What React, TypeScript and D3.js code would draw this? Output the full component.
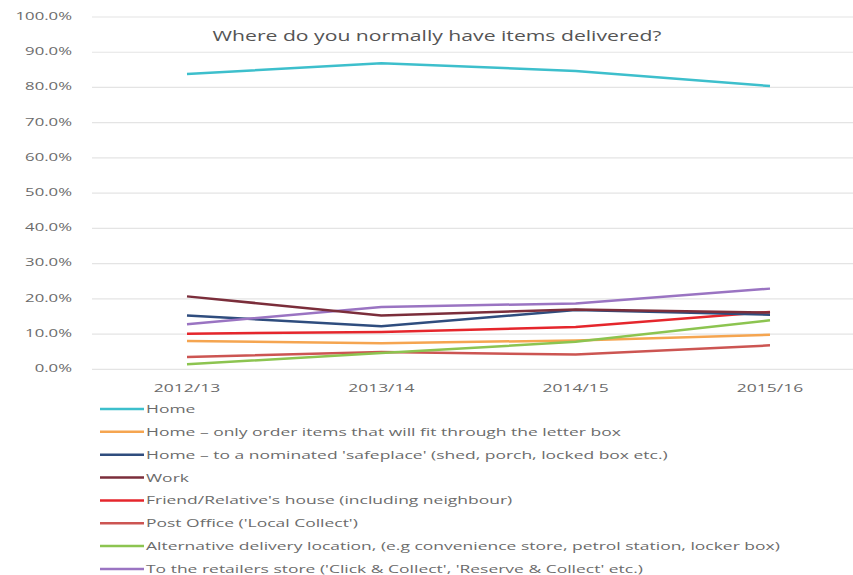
import React from "react";
import * as d3 from "d3";

const categories = ["2012/13", "2013/14", "2014/15", "2015/16"];
const seriesNames = [
  "Home",
  "Home – only order items that will fit through the letter box",
  "Home – to a nominated 'safeplace' (shed, porch, locked box etc.)",
  "Work",
  "Friend/Relative's house (including neighbour)",
  "Post Office ('Local Collect')",
  "Alternative delivery location, (e.g convenience store, petrol station, locker box)",
  "To the retailers store ('Click & Collect', 'Reserve & Collect' etc.)",
];
const seriesColors = ["#3dbfcc", "#f5a550", "#2f4d7e", "#7b2e3b", "#e5262c", "#cc5552", "#8cc450", "#9a74c2"];
const homeValues = [83.8, 86.9, 84.7, 80.4];
const letterBoxValues = [8.0, 7.4, 8.2, 9.8];
const safeplaceValues = [15.3, 12.2, 16.8, 15.5];
const workValues = [20.7, 15.3, 17.0, 16.1];
const friendValues = [10.1, 10.6, 12.0, 16.3];
const postOfficeValues = [3.5, 4.9, 4.2, 6.8];
const alternativeValues = [1.4, 4.6, 7.8, 13.9];
const retailerValues = [12.8, 17.7, 18.7, 22.9];
const yTicks = [0, 10, 20, 30, 40, 50, 60, 70, 80, 90, 100];
const title = "Where do you normally have items delivered?";

const allSeries = [
  homeValues,
  letterBoxValues,
  safeplaceValues,
  workValues,
  friendValues,
  postOfficeValues,
  alternativeValues,
  retailerValues,
];

export default function App() {
  const W = 853;
  const H = 575;
  const x = d3.scalePoint<string>().domain(categories).range([187, 770]);
  const y = d3.scaleLinear().domain([0, 100]).range([369.3, 17]);
  const line = d3
    .line<number>()
    .x((_, i) => x(categories[i]) as number)
    .y((d) => y(d));
  const font = "'Open Sans', sans-serif";
  const textColor = "#6b6b6b";
  const sx = 1.52;

  const order = [0, 1, 5, 6, 4, 2, 7, 3];

  return (
    <svg
      width={W}
      height={H}
      style={{ position: "absolute", left: 0, top: 0, background: "#fff" }}
    >
      <rect x={0} y={0} width={W} height={H} fill="#fff" />
      {yTicks.map((t) => (
        <g key={t}>
          <line x1={92} x2={W} y1={y(t)} y2={y(t)} stroke="#e4e4e4" strokeWidth={1.2} />
          <text
            transform={`translate(72,${y(t) - 1}) scale(${sx},1)`}
            dy="0.35em"
            textAnchor="end"
            fontFamily={font}
            fontSize={11}
            fill={textColor}
          >
            {t.toFixed(1)}%
          </text>
        </g>
      ))}
      {categories.map((c) => (
        <text
          key={c}
          transform={`translate(${x(c) as number},392) scale(${sx},1)`}
          textAnchor="middle"
          fontFamily={font}
          fontSize={11.5}
          fill={textColor}
        >
          {c}
        </text>
      ))}
      <text
        x={437}
        y={41}
        textAnchor="middle"
        fontFamily={font}
        fontSize={15}
        fill="#555"
        textLength={449}
        lengthAdjust="spacingAndGlyphs"
      >
        {title}
      </text>
      {order.map((si) => (
        <path
          key={si}
          d={line(allSeries[si]) || ""}
          fill="none"
          stroke={seriesColors[si]}
          strokeWidth={2.5}
          strokeLinejoin="round"
        />
      ))}
      {seriesNames.map((n, i) => {
        const ly = 409 + i * 22.85;
        return (
          <g key={n}>
            <line x1={100} x2={144} y1={ly} y2={ly} stroke={seriesColors[i]} strokeWidth={2.5} />
            <text
              transform={`translate(146,${ly}) scale(${sx},1)`}
              dy="0.35em"
              fontFamily={font}
              fontSize={11.5}
              fill={textColor}
            >
              {n}
            </text>
          </g>
        );
      })}
    </svg>
  );
}
